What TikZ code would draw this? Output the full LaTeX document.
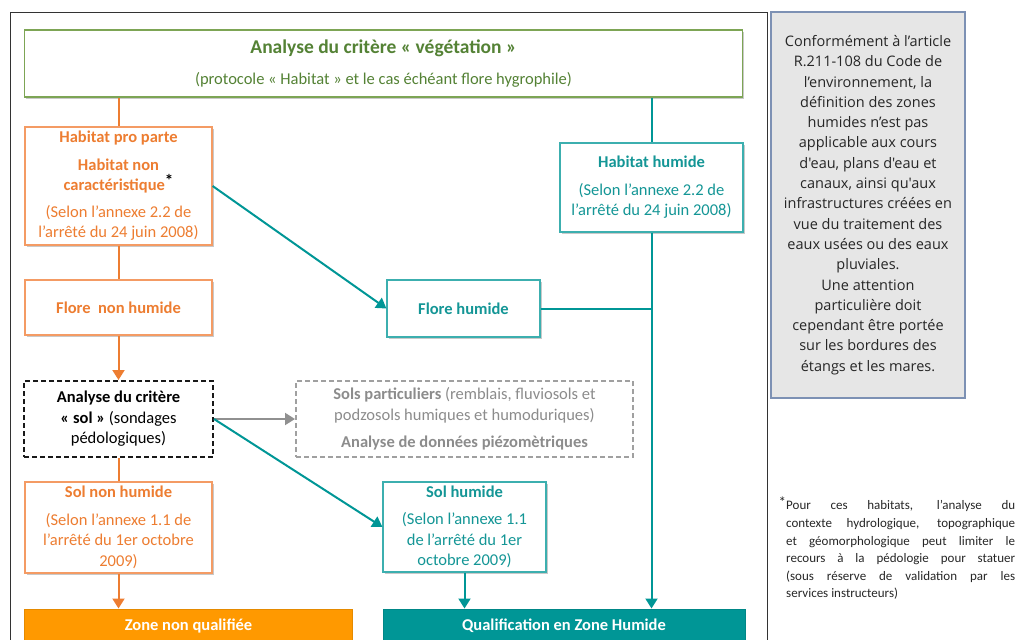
\documentclass[tikz,border=0pt]{standalone}
\usepackage{fontspec}
\setmainfont{Carlito}
\newfontfamily\osans{Open Sans}
\usetikzlibrary{arrows.meta,shadows}
\definecolor{grnT}{RGB}{84,130,53}
\definecolor{grnB}{RGB}{125,165,85}
\definecolor{orgT}{RGB}{237,125,49}
\definecolor{orgB}{RGB}{244,155,100}
\definecolor{orgL}{RGB}{237,125,49}
\definecolor{tlT}{RGB}{20,150,150}
\definecolor{tlB}{RGB}{60,175,175}
\definecolor{tlL}{RGB}{0,150,150}
\definecolor{gryT}{RGB}{140,140,140}
\definecolor{gryB}{RGB}{160,160,160}
\definecolor{zfill}{RGB}{255,153,0}
\definecolor{qfill}{RGB}{0,150,150}
\definecolor{notefill}{RGB}{230,230,230}
\definecolor{notebord}{RGB}{125,145,180}
\begin{document}
\begin{tikzpicture}[x=1pt,y=-1pt,
  box/.style={draw, fill=white, line width=1.2pt, align=center, inner sep=0pt,
    drop shadow={shadow xshift=1.5pt, shadow yshift=-1.5pt, opacity=0.3, fill=black!70}},
  obox/.style={box, draw=orgB, text=orgT, font=\fontsize{16.5}{20.5}\selectfont},
  tbox/.style={box, draw=tlB, text=tlT, font=\fontsize{16.5}{20.5}\selectfont},
  dbox/.style={draw, fill=white, line width=2pt, dash pattern=on 5pt off 3pt, align=center, inner sep=0pt,
    font=\fontsize{16.5}{20.5}\selectfont},
  fbox/.style={line width=1pt, align=center, inner sep=0pt, text=white,
    font=\fontsize{16.5}{19}\selectfont\bfseries},
  oline/.style={draw=orgL, line width=2pt},
  tline/.style={draw=tlL, line width=2pt},
  gline/.style={draw=gryB!90!black, line width=2pt},
  tip/.style={-{Triangle[width=12pt,length=10pt]}}
]
\useasboundingbox (0,0) rectangle (1018,640);
\begin{scope}
\clip (0,0) rectangle (1018,640);
% outer frame
\draw[line width=1.3pt, black!80] (10.7,700) -- (10.7,12.7) -- (767.7,12.7) -- (767.7,700);

% nodes
\node[box, draw=grnB, text=grnT, minimum width=718pt, minimum height=67pt] (top) at (383.5,63.5)
  {{\fontsize{19.5}{22}\selectfont\bfseries Analyse du critère « végétation »}\\[14pt]
   {\fontsize{16.5}{19}\selectfont (protocole « Habitat » et le cas échéant flore hygrophile)}};

\node[obox, minimum width=187pt, minimum height=118pt] (hpp) at (118.5,186)
  {\textbf{Habitat pro parte}\\[7pt]
   \textbf{Habitat non}\\
   \textbf{caractéristique}\textcolor{black}{\raisebox{4pt}{\fontsize{17}{17}\selectfont\bfseries *}}\\[6pt]
   (Selon l’annexe 2.2 de\\
   l’arrêté du 24 juin 2008)};

\node[tbox, minimum width=183pt, minimum height=89pt] (hh) at (651.5,187.5)
  {\textbf{Habitat humide}\\[7pt]
   (Selon l’annexe 2.2 de\\
   l’arrêté du 24 juin 2008)};

\node[obox, minimum width=187pt, minimum height=55pt] (fnh) at (118.5,307.5)
  {\textbf{Flore\ \ non humide}};

\node[tbox, minimum width=153pt, minimum height=57pt] (fh) at (463.5,308.5)
  {\textbf{Flore humide}};

\node[dbox, draw=black!90, text=black, minimum width=189pt, minimum height=76pt] (sol) at (118.5,419)
  {\textbf{Analyse du critère}\\
   \textbf{« sol »} (sondages\\
   pédologiques)};

\node[dbox, draw=gryB, text=gryT, minimum width=337pt, minimum height=76pt] (sp) at (464.5,419)
  {\textbf{Sols particuliers} (remblais, fluviosols et\\
   podzosols\ humiques et humoduriques)\\[7pt]
   \textbf{Analyse de données piézomètriques}};

\node[obox, minimum width=187pt, minimum height=91pt] (snh) at (118.5,527.5)
  {\textbf{Sol non humide}\\[7pt]
   (Selon l’annexe 1.1 de\\
   l’arrêté du 1er octobre\\
   2009)};

\node[tbox, minimum width=163pt, minimum height=90pt] (sh) at (464.5,527)
  {\textbf{Sol humide}\\[7pt]
   (Selon l’annexe 1.1\\
   de l’arrêté du 1er\\
   octobre 2009)};

\node[fbox, fill=zfill, draw=zfill!90!black, minimum width=328pt, minimum height=34pt] (znq) at (188.5,626)
  {Zone non qualifiée};

\node[fbox, fill=qfill, draw=qfill!90!black, minimum width=362pt, minimum height=34pt] (qzh) at (564,626)
  {Qualification en Zone Humide};

% connectors
\draw[oline] (top.south -| hpp.north) -- (hpp.north);
\draw[tline] (top.south -| hh.north) -- (hh.north);
\draw[tline, tip] (hh.south) -- (hh.south |- qzh.north);
\draw[oline] (hpp.south) -- (fnh.north);
\draw[tline, tip] (hpp.east) -- (fh.west);
\draw[tline] (fh.east) -- (fh.east -| hh.south);
\draw[oline, tip] (fnh.south) -- (sol.north);
\draw[gline, tip] (sol.east) -- (sp.west);
\draw[tline, tip] (sol.east) -- (sh.west);
\draw[oline] (sol.south) -- (snh.north);
\draw[oline, tip] (snh.south) -- (znq.north -| snh.south);
\draw[tline, tip] (sh.south) -- (sh.south |- qzh.north);

% side note
\node[draw=notebord, fill=notefill, line width=1.2pt, minimum width=194pt, minimum height=386pt,
      align=center, inner sep=0pt, font=\osans\fontsize{14.5}{20.3}\selectfont, text=black!85] (note) at (868,205)
  {Conformément à l’article\\
   R.211-108 du Code de\\
   l’environnement, la\\
   définition des zones\\
   humides n’est pas\\
   applicable aux cours\\
   d'eau, plans d'eau et\\
   canaux, ainsi qu'aux\\
   infrastructures créées en\\
   vue du traitement des\\
   eaux usées ou des eaux\\
   pluviales.\\
   Une attention\\
   particulière doit\\
   cependant être portée\\
   sur les bordures des\\
   étangs et les mares.};

% footnote
\node[anchor=north west, text width=229pt, align=justify, inner sep=0pt,
      font=\fontsize{13}{17.6}\selectfont, text=black!85] (foot) at (786,497)
  {\llap{\raisebox{2pt}{\fontsize{15}{15}\selectfont *}}Pour ces habitats, l’analyse du\linebreak
   contexte hydrologique, topographique\linebreak
   et géomorphologique peut limiter le\linebreak
   recours à la pédologie pour statuer\linebreak
   (sous réserve de validation par les\linebreak
   services instructeurs)};
\end{scope}
\end{tikzpicture}
\end{document}
